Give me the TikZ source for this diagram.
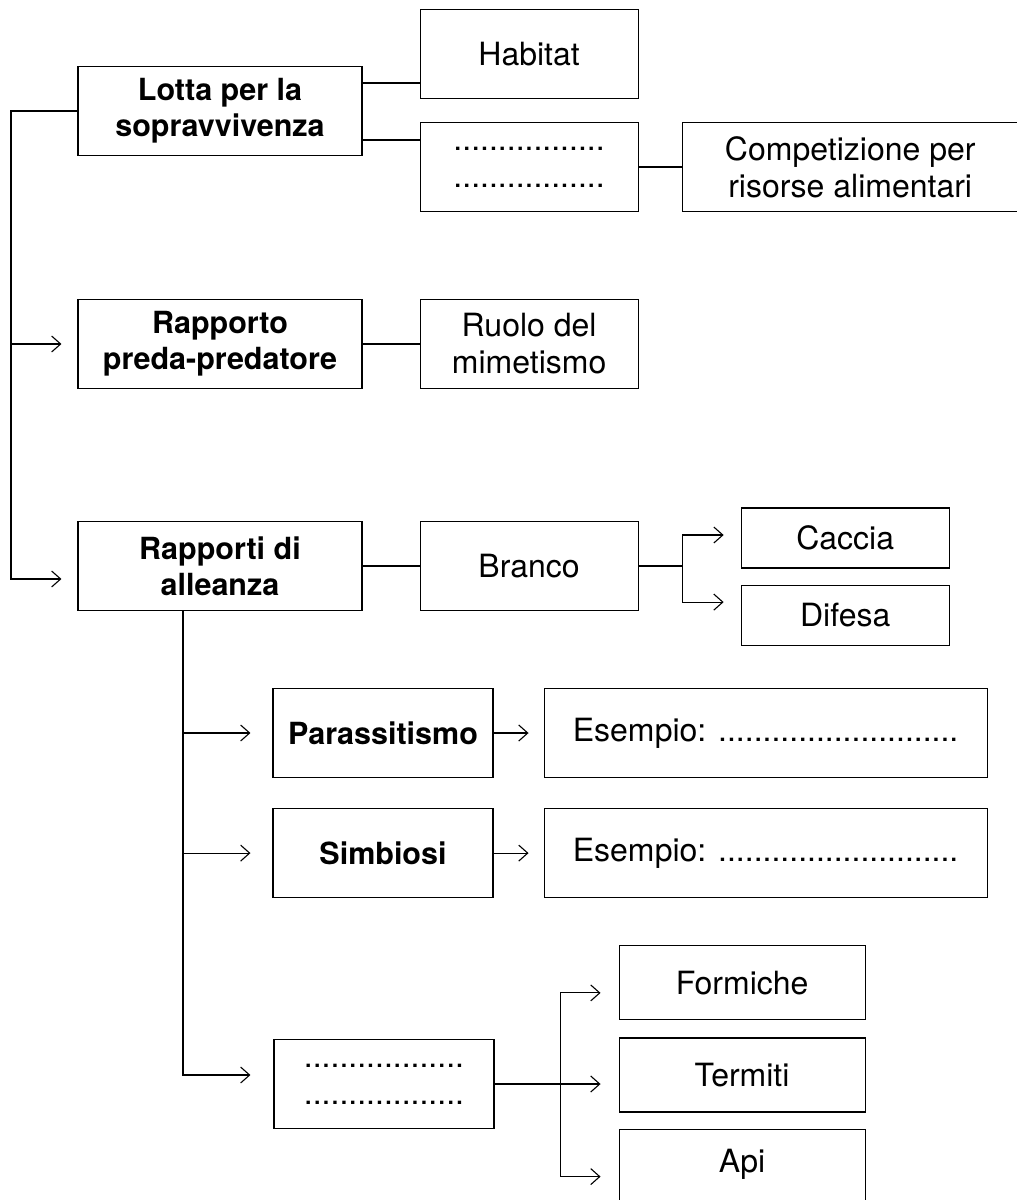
\documentclass[tikz,border=0pt]{standalone}
\usepackage{fontspec}
\setmainfont{TeX Gyre Heros}
\usetikzlibrary{arrows.meta,positioning}

\begin{document}
\begin{tikzpicture}[
	x=1pt, y=-1pt,
	line width=1.1pt,
	arr/.style={-{Straight Barb[length=9pt,width=16pt]}, shorten >=#1},
	arr/.default=16pt,
	box/.style={draw, align=center, inner sep=2pt, minimum height=89pt, font=\fontsize{32}{37}\selectfont},
	head/.style={box, minimum width=284pt, font=\fontsize{30.5}{36}\selectfont\bfseries},
	mid/.style={box, minimum width=218pt},
	kind/.style={box, minimum width=220pt},
	small/.style={box, minimum width=208pt, minimum height=60pt},
	leaf/.style={box, minimum width=246pt, minimum height=74pt}
]
\useasboundingbox (0,0) rectangle (1017,1200);

% main column
\node[head] (lotta) at (220,111) {Lotta per la\\sopravvivenza};
\node[head] (prey) at (220,344) {Rapporto\\preda-predatore};
\node[head] (alliance) at (220,566) {Rapporti di\\alleanza};

\node[mid, right=57pt of lotta, yshift=57pt] (habitat) {Habitat};
\node[mid, right=57pt of lotta, yshift=-56pt] (gapA) {.................\\.................};
\node[box, minimum width=336pt, right=43pt of gapA] (comp) {Competizione per\\risorse alimentari};
\node[mid, right=57pt of prey] (ruolo) {Ruolo del\\mimetismo};
\node[mid, right=57pt of alliance] (branco) {Branco};
\node[small, right=102pt of branco, yshift=28pt] (caccia) {Caccia};
\node[small, below=16pt of caccia] (difesa) {Difesa};

% alliance kinds
\node[kind, font=\fontsize{30.5}{36}\selectfont\bfseries] (paras) at (383,733) {Parassitismo};
\node[box, minimum width=443pt, right=50pt of paras] (exA) {Esempio: ...........................};
\node[kind, font=\fontsize{30.5}{36}\selectfont\bfseries, below=30pt of paras] (simb) {Simbiosi};
\node[box, minimum width=443pt, right=50pt of simb] (exB) {Esempio: ...........................};
\node[kind] (gapB) at (384,1084) {..................\\..................};
\node[leaf, right=124pt of gapB, yshift=9pt] (termiti) {Termiti};
\node[leaf, above=17pt of termiti] (formiche) {Formiche};
\node[leaf, minimum height=71pt, below=16pt of termiti] (api) {Api};

\coordinate (spine) at (11,0);
\coordinate (allin) at ([yshift=-13pt]alliance.west);
\coordinate (spine2) at ([xshift=-37pt]alliance.south);
\coordinate (fork) at ([xshift=44pt]branco.east);
\coordinate (fork2) at ([xshift=66pt]gapB.east);

\draw[arr] (lotta.west) -| (allin -| spine) -- (allin);
\draw[arr] (prey.west -| spine) -- (prey.west);
\draw ([yshift=28pt]lotta.east) -- ([yshift=28pt]lotta.east -| habitat.west);
\draw ([yshift=-29pt]lotta.east) -- ([yshift=-29pt]lotta.east -| gapA.west);
\draw (gapA.east) -- (gapA.east -| comp.west);
\draw (prey.east) -- (prey.east -| ruolo.west);
\draw (alliance.east) -- (alliance.east -| branco.west);

\draw[arr=17pt] (branco.east) -- (fork) |- ([yshift=3pt]caccia.west);
\draw[arr=17pt] (fork) |- ([yshift=13pt]difesa.west);

\draw[arr=22pt] (spine2) |- (paras.west);
\draw[arr=22pt] (spine2) |- (simb.west);
\draw[arr=23pt] (spine2) |- ([yshift=9pt]gapB.west);
\draw[arr=15pt] (paras.east) -- (exA.west);
\draw[arr=15pt] (simb.east) -- (exB.west);

\draw[arr=18pt] (gapB.east) -- ([yshift=-9pt]termiti.west);
\draw[arr=18pt] (fork2) |- ([yshift=-10pt]formiche.west);
\draw[arr=18pt] (fork2) |- ([yshift=-12pt]api.west);

\end{tikzpicture}
\end{document}
